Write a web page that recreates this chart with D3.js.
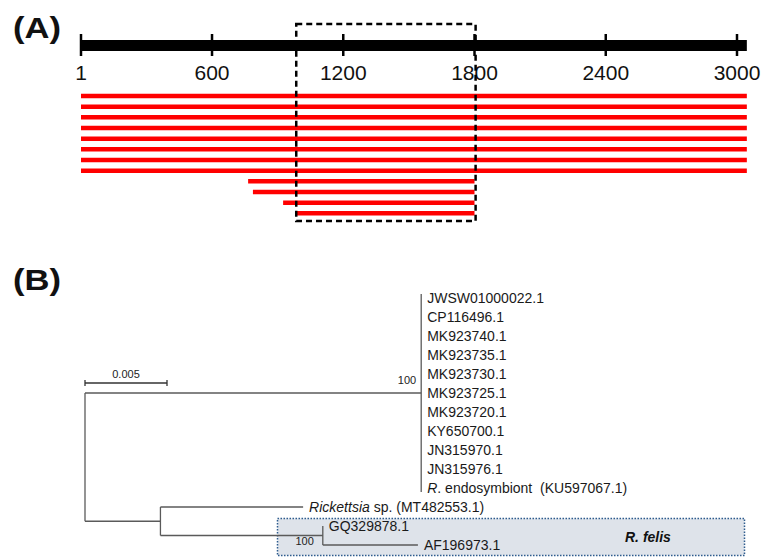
<!DOCTYPE html>
<html>
<head>
<meta charset="utf-8">
<script src="https://cdn.jsdelivr.net/npm/d3@7"></script>
<style>
  body { margin: 0; background: #fff; }
  text { font-family: "Liberation Sans", Arial, sans-serif; }
</style>
</head>
<body>
<script>
var w = 770;
var h = 557;

// ---- panel A data ----
var axisTicks = [1, 600, 1200, 1800, 2400, 3000];
var genomeEnd = 3045;
var readStarts = [1, 1, 1, 1, 1, 1, 1, 1, 765, 787, 925, 980];
var readEnds = [3045, 3045, 3045, 3045, 3045, 3045, 3045, 3045, 1800, 1800, 1800, 1800];
var regionStart = 985;
var regionEnd = 1805;

// ---- panel B data ----
var nodeIds = ["root", "cladeA",
  "JWSW01000022.1", "CP116496.1", "MK923740.1", "MK923735.1", "MK923730.1",
  "MK923725.1", "MK923720.1", "KY650700.1", "JN315970.1", "JN315976.1",
  "R. endosymbiont  (KU597067.1)",
  "cladeB", "Rickettsia sp. (MT482553.1)", "felis", "GQ329878.1", "AF196973.1"];
var nodeParents = ["", "root",
  "cladeA", "cladeA", "cladeA", "cladeA", "cladeA",
  "cladeA", "cladeA", "cladeA", "cladeA", "cladeA", "cladeA",
  "root", "cladeB", "cladeB", "felis", "felis"];
var branchLengths = [0, 0.0205,
  0, 0, 0, 0, 0, 0, 0, 0, 0, 0, 0,
  0.0046, 0.0087, 0.0099, 0, 0.0058];
var bootstrap = {cladeA: 100, felis: 100};
var italicPrefix = {"R. endosymbiont  (KU597067.1)": "R", "Rickettsia sp. (MT482553.1)": "Rickettsia"};
var scaleBarValue = 0.005;

var svg = d3.select("body").append("svg")
    .attr("width", w)
    .attr("height", h);

// ================= (A) =================
svg.append("text")
    .text("(A)")
    .attr("x", 13)
    .attr("y", 38)
    .attr("font-size", 29)
    .attr("font-weight", "bold")
    .attr("textLength", 48)
    .attr("lengthAdjust", "spacingAndGlyphs")
    .attr("fill", "#111");

var xA = d3.scaleLinear().domain([1, 3000]).range([81, 737]);
var yA = d3.scaleLinear().domain([0, readStarts.length - 1]).range([96, 213.3]);

// genome bar
svg.append("line")
    .attr("x1", xA(1))
    .attr("x2", xA(genomeEnd))
    .attr("y1", 45.5)
    .attr("y2", 45.5)
    .attr("stroke", "#000")
    .attr("stroke-width", 11);

svg.selectAll(".tick")
    .data(axisTicks)
    .enter().append("line")
    .attr("x1", function (d) { return xA(d); })
    .attr("x2", function (d) { return xA(d); })
    .attr("y1", 34)
    .attr("y2", 56)
    .attr("stroke", "#000")
    .attr("stroke-width", 2.5);

svg.selectAll(".ticklabel")
    .data(axisTicks)
    .enter().append("text")
    .text(function (d) { return d; })
    .attr("x", function (d) { return xA(d); })
    .attr("y", 80)
    .attr("text-anchor", "middle")
    .attr("font-size", 21)
    .attr("fill", "#111");

// reads
svg.selectAll(".read")
    .data(readStarts)
    .enter().append("line")
    .attr("x1", function (d) { return xA(d); })
    .attr("x2", function (d, i) { return xA(readEnds[i]); })
    .attr("y1", function (d, i) { return yA(i); })
    .attr("y2", function (d, i) { return yA(i); })
    .attr("stroke", "#ff0000")
    .attr("stroke-width", 4.5);

// dashed region
svg.append("rect")
    .attr("x", xA(regionStart))
    .attr("y", 24)
    .attr("width", xA(regionEnd) - xA(regionStart))
    .attr("height", 197)
    .attr("fill", "none")
    .attr("stroke", "#000")
    .attr("stroke-width", 2.5)
    .attr("stroke-dasharray", "6,4");

// ================= (B) =================
svg.append("text")
    .text("(B)")
    .attr("x", 13)
    .attr("y", 290)
    .attr("font-size", 29)
    .attr("font-weight", "bold")
    .attr("textLength", 48)
    .attr("lengthAdjust", "spacingAndGlyphs")
    .attr("fill", "#111");

var xB = d3.scaleLinear().domain([0, scaleBarValue]).range([85, 167]);

var table = nodeIds.map(function (id, i) {
    return {id: id, parent: nodeParents[i], len: branchLengths[i]};
});
var root = d3.stratify()
    .id(function (d) { return d.id; })
    .parentId(function (d) { return d.parent || null; })(table);

var leaves = root.leaves();
var yB = d3.scaleLinear().domain([0, leaves.length - 1]).range([298, 545]);

root.eachBefore(function (n) {
    n.dist = (n.parent ? n.parent.dist : 0) + n.data.len;
});
leaves.forEach(function (n, i) { n.y = yB(i); });
root.eachAfter(function (n) {
    if (n.children) {
        n.y = (n.children[0].y + n.children[n.children.length - 1].y) / 2;
    }
});

// R. felis highlight box
svg.append("rect")
    .attr("x", 277.5)
    .attr("y", 518.5)
    .attr("width", 467)
    .attr("height", 37)
    .attr("fill", "#dee3ea")
    .attr("stroke", "#2e5c8e")
    .attr("stroke-width", 1.5)
    .attr("stroke-dasharray", "1.5,1.5");

svg.append("text")
    .text("R. felis")
    .attr("x", 625)
    .attr("y", 542)
    .attr("font-size", 14)
    .attr("font-weight", "bold")
    .attr("font-style", "italic")
    .attr("fill", "#111");

var treeColor = "#5a5a5a";

// horizontal branches
svg.selectAll(".branch")
    .data(root.descendants().filter(function (n) { return n.parent && n.data.len > 0; }))
    .enter().append("line")
    .attr("x1", function (n) { return xB(n.parent.dist); })
    .attr("x2", function (n) { return xB(n.dist); })
    .attr("y1", function (n) { return n.y; })
    .attr("y2", function (n) { return n.y; })
    .attr("stroke", treeColor)
    .attr("stroke-width", 1.3);

// vertical connectors
svg.selectAll(".connector")
    .data(root.descendants().filter(function (n) { return n.children; }))
    .enter().append("line")
    .attr("x1", function (n) { return xB(n.dist); })
    .attr("x2", function (n) { return xB(n.dist); })
    .attr("y1", function (n) { return n.children[0].y - (n.children.length > 2 ? 4 : 0); })
    .attr("y2", function (n) { return n.children[n.children.length - 1].y + (n.children.length > 2 ? 4 : 0); })
    .attr("stroke", treeColor)
    .attr("stroke-width", 1.3);

// leaf labels
var labels = svg.selectAll(".leaf")
    .data(leaves)
    .enter().append("text")
    .attr("x", function (n) { return xB(n.dist) + 6; })
    .attr("y", function (n) { return n.y + 5; })
    .attr("font-size", 14)
    .attr("fill", "#1a1a1a")
    .attr("xml:space", "preserve");

labels.each(function (n) {
    var t = d3.select(this);
    var pre = italicPrefix[n.id];
    if (pre) {
        t.append("tspan").attr("font-style", "italic").text(pre);
        t.append("tspan").text(n.id.slice(pre.length));
    } else {
        t.text(n.id);
    }
});

// bootstrap values
svg.selectAll(".support")
    .data(root.descendants().filter(function (n) { return bootstrap[n.id]; }))
    .enter().append("text")
    .text(function (n) { return bootstrap[n.id]; })
    .attr("x", function (n) { return xB(n.dist) - (n.id === "felis" ? 9 : 5); })
    .attr("y", function (n) { return n.id === "felis" ? n.y + 9 : n.y - 9; })
    .attr("text-anchor", "end")
    .attr("font-size", 11)
    .attr("fill", "#222");

// scale bar
var sbY = 383;
svg.append("line")
    .attr("x1", xB(0)).attr("x2", xB(scaleBarValue))
    .attr("y1", sbY).attr("y2", sbY)
    .attr("stroke", "#333").attr("stroke-width", 1.3);
svg.selectAll(".sbtick")
    .data([0, scaleBarValue])
    .enter().append("line")
    .attr("x1", function (d) { return xB(d); })
    .attr("x2", function (d) { return xB(d); })
    .attr("y1", sbY - 3).attr("y2", sbY + 3)
    .attr("stroke", "#333").attr("stroke-width", 1.3);
svg.append("text")
    .text(scaleBarValue)
    .attr("x", (xB(0) + xB(scaleBarValue)) / 2)
    .attr("y", sbY - 5)
    .attr("text-anchor", "middle")
    .attr("font-size", 11)
    .attr("fill", "#222");
</script>
</body>
</html>
